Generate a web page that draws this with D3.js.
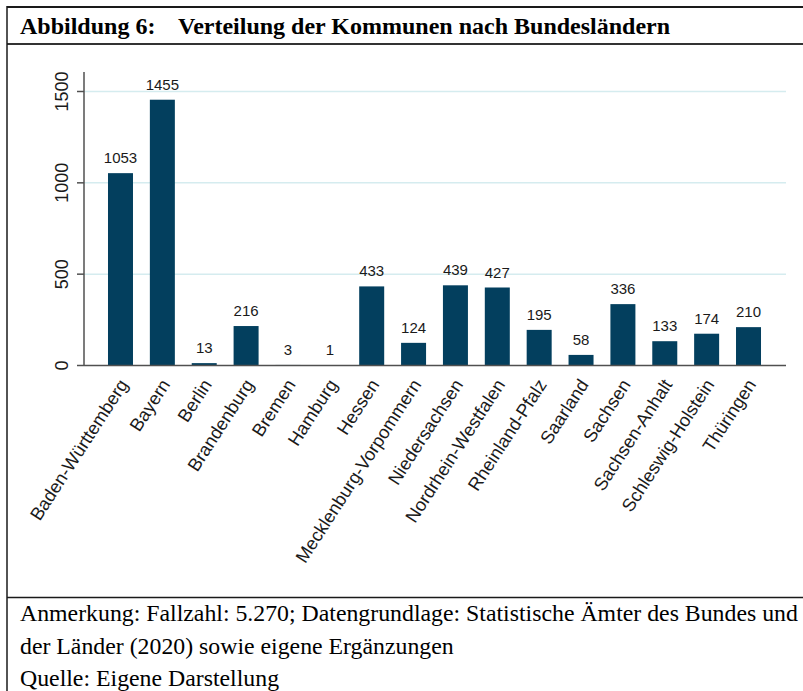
<!DOCTYPE html>
<html>
<head>
<meta charset="utf-8">
<script src="https://cdn.jsdelivr.net/npm/d3@7"></script>
<style>
  html, body { margin: 0; padding: 0; background: #fff; }
  svg { display: block; }
</style>
</head>
<body>
<svg id="chart" width="803" height="691"></svg>
<script>
const categories = ["Baden-Württemberg","Bayern","Berlin","Brandenburg","Bremen","Hamburg","Hessen","Mecklenburg-Vorpommern","Niedersachsen","Nordrhein-Westfalen","Rheinland-Pfalz","Saarland","Sachsen","Sachsen-Anhalt","Schleswig-Holstein","Thüringen"];
const values = [1053,1455,13,216,3,1,433,124,439,427,195,58,336,133,174,210];
const yTicks = [0,500,1000,1500];
const titleLabel = "Abbildung 6:";
const titleText = "Verteilung der Kommunen nach Bundesländern";
const noteLines = [
  "Anmerkung: Fallzahl: 5.270; Datengrundlage: Statistische Ämter des Bundes und",
  "der Länder (2020) sowie eigene Ergänzungen",
  "Quelle: Eigene Darstellung"
];

const svg = d3.select("#chart");
const W = 803, H = 691;
const serif = "'Liberation Serif','Times New Roman',Times,serif";
const sans = "'Liberation Sans',Arial,Helvetica,sans-serif";

// frame
svg.append("line").attr("x1",7).attr("x2",W).attr("y1",7).attr("y2",7).attr("stroke","#1a1a1a").attr("stroke-width",2);
svg.append("line").attr("x1",7).attr("x2",W).attr("y1",44).attr("y2",44).attr("stroke","#333").attr("stroke-width",2);
svg.append("line").attr("x1",7).attr("x2",W).attr("y1",597.5).attr("y2",597.5).attr("stroke","#1a1a1a").attr("stroke-width",1.5);
svg.append("line").attr("x1",7).attr("x2",7).attr("y1",6).attr("y2",H).attr("stroke","#1a1a1a").attr("stroke-width",1.5);

// title
svg.append("text").attr("x",20).attr("y",34).attr("font-family",serif).attr("font-weight","bold").attr("font-size",24).attr("fill","#000").text(titleLabel);
svg.append("text").attr("x",178).attr("y",34).attr("font-family",serif).attr("font-weight","bold").attr("font-size",24).attr("fill","#000").text(titleText);

// notes
svg.selectAll("text.note").data(noteLines).join("text")
  .attr("class","note")
  .attr("x",20).attr("y",(d,i)=>621 + i*32.5)
  .attr("font-family",serif).attr("font-size",23.8).attr("fill","#000")
  .text(d=>d);

// scales
const x = d3.scaleBand().domain(categories).range([84,785]).paddingInner(0.403).paddingOuter(0.573);
const y = d3.scaleLinear().domain([0,1500]).range([365.5,91.5]);
const yTop = 1607;

// gridlines
svg.append("g").selectAll("line").data(yTicks.filter(t=>t>0)).join("line")
  .attr("x1",84).attr("x2",786).attr("y1",d=>y(d)).attr("y2",d=>y(d))
  .attr("stroke","#d5ecef").attr("stroke-width",1.5);

// bars
svg.append("g").selectAll("rect").data(values).join("rect")
  .attr("x",(d,i)=>x(categories[i]))
  .attr("width",x.bandwidth())
  .attr("y",d=>y(d))
  .attr("height",d=>y(0)-y(d))
  .attr("fill","#033f5e");

// value labels
svg.append("g").selectAll("text").data(values).join("text")
  .attr("x",(d,i)=>x(categories[i])+x.bandwidth()/2)
  .attr("y",d=>y(d)-10)
  .attr("text-anchor","middle")
  .attr("font-family",sans).attr("font-size",15).attr("fill","#1a1a1a")
  .text(d=>d);

// y axis
const axisColor = "#505050";
svg.append("line").attr("x1",84).attr("x2",84).attr("y1",y(yTop)).attr("y2",y(0)).attr("stroke",axisColor).attr("stroke-width",1.5);
svg.append("g").selectAll("line").data(yTicks).join("line")
  .attr("x1",77).attr("x2",84).attr("y1",d=>y(d)).attr("y2",d=>y(d))
  .attr("stroke",axisColor).attr("stroke-width",1.5);
svg.append("g").selectAll("text").data(yTicks).join("text")
  .attr("transform",d=>`translate(68,${y(d)}) rotate(-90)`)
  .attr("text-anchor","middle")
  .attr("font-family",sans).attr("font-size",18).attr("fill","#1a1a1a")
  .text(d=>d);

// x axis
svg.append("line").attr("x1",84).attr("x2",786).attr("y1",y(0)).attr("y2",y(0)).attr("stroke",axisColor).attr("stroke-width",1.5);
svg.append("g").selectAll("text").data(categories).join("text")
  .attr("transform",d=>`translate(${x(d)+x.bandwidth()/2+3},381) rotate(-57)`)
  .attr("text-anchor","end")
  .attr("dy","0.35em")
  .attr("font-family",sans).attr("font-size",18.2).attr("fill","#1a1a1a")
  .text(d=>d);
</script>
</body>
</html>
